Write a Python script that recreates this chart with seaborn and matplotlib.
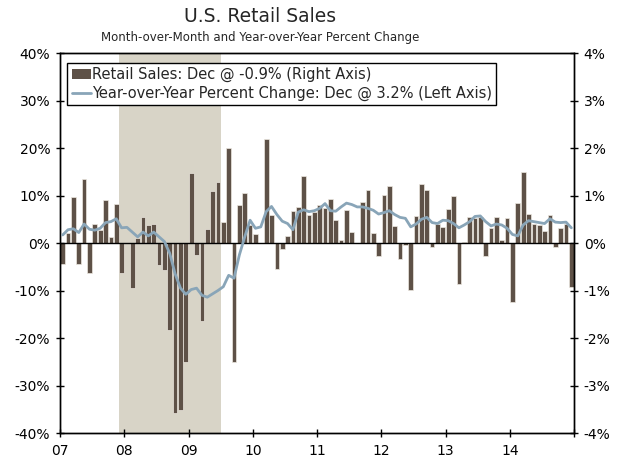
import numpy as np
import pandas as pd
import matplotlib
matplotlib.use("Agg")
import matplotlib.pyplot as plt
import matplotlib.patches as mpatches
import matplotlib.lines as mlines
import seaborn as sns

# ── data (monthly, Jan 2007 - Dec 2014) ──────────────────────────────────────
months = pd.period_range("2007-01", "2014-12", freq="M").strftime("%b-%y")

mom_pct = [  # month-over-month %, right axis
    -0.44, 0.21, 0.97, -0.44, 1.35, -0.64, 0.40, 0.28, 0.90, 0.13, 0.82, -0.64,
    0.00, -0.94, 0.11, 0.55, 0.37, 0.39, -0.46, -0.56, -1.83, -3.58, -3.52, -2.50,
    1.47, -0.26, -1.65, 0.29, 1.10, 1.28, 0.44, 2.00, -2.51, 0.80, 1.05, 0.37,
    0.18, 0.00, 2.18, 0.60, -0.55, -0.13, 0.15, 0.67, 0.76, 1.42, 0.60, 0.66,
    0.80, 0.74, 0.92, 0.48, 0.07, 0.70, 0.24, 0.00, 0.86, 1.12, 0.22, -0.28,
    1.01, 1.21, 0.36, -0.33, -0.05, -0.98, 0.57, 1.24, 1.11, -0.08, 0.41, 0.34,
    0.72, 0.98, -0.87, 0.03, 0.55, 0.52, 0.55, -0.27, 0.31, 0.55, 0.06, 0.52,
    -1.24, 0.84, 1.50, 0.62, 0.41, 0.38, 0.25, 0.59, -0.08, 0.32, 0.40, -0.93,
]

yoy_pct = [  # year-over-year %, left axis
    1.7, 2.8, 3.0, 2.2, 4.0, 2.9, 2.7, 3.1, 4.3, 4.5, 5.1, 3.2,
    3.3, 2.3, 1.3, 2.3, 1.5, 2.3, 1.3, 0.3, -2.2, -6.5, -9.5, -10.8,
    -9.8, -9.5, -11.0, -11.4, -10.7, -10.0, -9.2, -6.8, -7.4, -2.5, 1.3, 4.8,
    3.1, 3.4, 6.6, 7.7, 6.0, 4.6, 4.1, 2.8, 6.5, 7.0, 6.6, 6.8,
    7.3, 8.3, 6.8, 6.7, 7.6, 8.4, 8.1, 7.6, 7.6, 7.3, 6.9, 6.1,
    6.4, 6.8, 6.0, 5.4, 5.2, 3.4, 4.0, 5.0, 5.4, 4.3, 4.1, 4.8,
    4.7, 4.1, 3.2, 3.8, 4.5, 5.6, 5.7, 4.5, 3.6, 4.0, 3.8, 3.1,
    1.8, 1.5, 3.8, 4.7, 4.5, 4.3, 4.1, 5.1, 4.4, 4.3, 4.4, 3.2,
]

year_labels = ["07", "08", "09", "10", "11", "12", "13", "14", ""]
recession = ("Dec-07", "Jun-09")

left_ticks = [-40, -30, -20, -10, 0, 10, 20, 30, 40]
right_ticks = [-4, -3, -2, -1, 0, 1, 2, 3, 4]

df = pd.DataFrame({"month": months, "mom": mom_pct, "yoy": yoy_pct})
df["pos"] = np.arange(len(df))

BAR = "#5e5147"
LINE = "#89a5b8"
SHADE = "#d8d4c7"

sns.set_theme(style="ticks")
plt.rcParams["font.family"] = ["DejaVu Sans"]

fig = plt.figure(figsize=(6.29, 4.59), dpi=100)
ax = fig.add_axes([0.0954, 0.0566, 0.8172, 0.8279])  # bars, right axis

# recession shading
r0 = df.loc[df["month"] == recession[0], "pos"].iloc[0] - 0.5
r1 = df.loc[df["month"] == recession[1], "pos"].iloc[0] + 0.5
ax.axvspan(r0, r1, color=SHADE, lw=0, zorder=0)

sns.barplot(data=df, x="pos", y="mom", ax=ax, color=BAR, saturation=1,
            width=0.88, edgecolor="#ece8e0", linewidth=0.5, zorder=2)
ax.axhline(0, color="black", lw=1.0, zorder=3)

ax2 = ax.twinx()  # YoY line, left axis (twinx resets ax to the left)
sns.lineplot(data=df, x="pos", y="yoy", ax=ax2, color=LINE, lw=2.0, zorder=4)

ax.set_xlim(-0.5, len(df) - 0.5)
ax.set_ylim(-4, 4)
ax.yaxis.tick_right()
ax.set_yticks(right_ticks)
ax.set_yticklabels([f"{t}%" for t in right_ticks])
ax.set_xticks(np.arange(0, len(df) + 1, 12) - 0.5)
ax.set_xticklabels(year_labels)
ax.set_xlabel("")
ax.set_ylabel("")

ax2.set_ylim(-40, 40)
ax2.yaxis.tick_left()
ax2.set_yticks(left_ticks)
ax2.set_yticklabels([f"{t}%" for t in left_ticks])
ax2.set_ylabel("")
ax2.set_xlim(-0.5, len(df) - 0.5)

for a in (ax, ax2):
    a.tick_params(direction="inout", length=6, width=1, colors="black",
                  labelsize=10, pad=4)
    for s in a.spines.values():
        s.set_color("black")
        s.set_linewidth(1.0)
ax.tick_params(axis="x", pad=5)

handles = [mpatches.Patch(facecolor=BAR, edgecolor="none"),
           mlines.Line2D([], [], color=LINE, lw=2.0)]
labels = ["Retail Sales: Dec @ -0.9% (Right Axis)",
          "Year-over-Year Percent Change: Dec @ 3.2% (Left Axis)"]
leg = ax2.legend(handles, labels, loc="upper left", bbox_to_anchor=(0.014, 0.975),
                 fontsize=10.5, frameon=True, fancybox=False, framealpha=1,
                 edgecolor="black", borderpad=0.3, labelspacing=0.25,
                 handlelength=1.3, handletextpad=0.1, borderaxespad=0)
leg.get_frame().set_linewidth(1.0)

fig.text(0.413, 0.963, "U.S. Retail Sales", ha="center", va="center", fontsize=13.5)
fig.text(0.413, 0.918, "Month-over-Month and Year-over-Year Percent Change",
         ha="center", va="center", fontsize=8.5)

fig.savefig("out.png", dpi=100)
